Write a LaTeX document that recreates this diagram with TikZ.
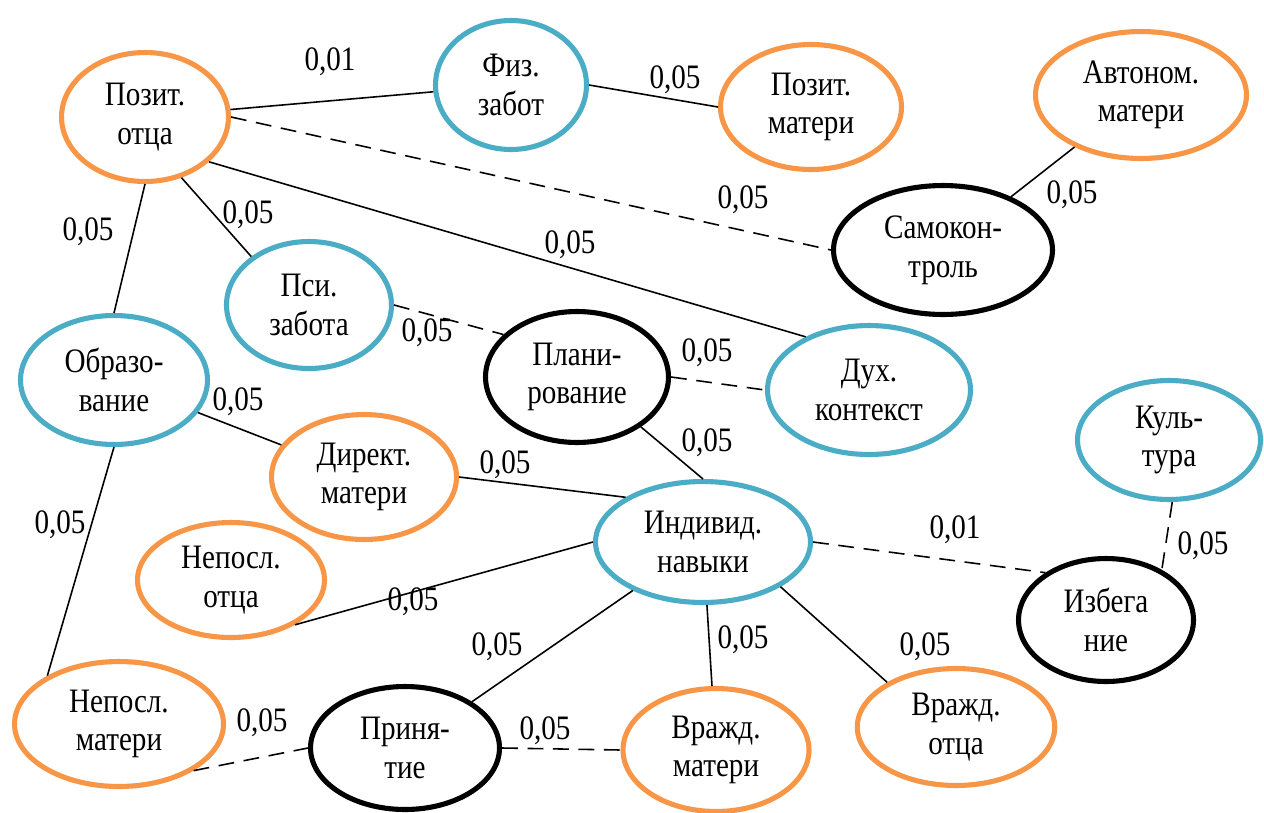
\documentclass[tikz,border=0pt]{standalone}
\usepackage{fontspec}
\setmainfont{Liberation Serif}[FakeStretch=0.85]
\usetikzlibrary{shapes.geometric}
\definecolor{orangeline}{HTML}{F79646}
\definecolor{blueline}{HTML}{4BACC6}

\begin{document}
\begin{tikzpicture}[x=0.02cm, y=-0.02cm,
    every node/.style={font=\fontsize{19.5}{22}\selectfont},
    factor/.style={ellipse, draw, line width=2.9pt, inner sep=0pt, align=center},
    parental/.style={factor, draw=orangeline},
    context/.style={factor, draw=blueline},
    selfreg/.style={factor, draw=black},
    link/.style={line width=0.9pt},
    weak/.style={link, dash pattern=on 9pt off 5.5pt},
    weight/.style={inner sep=1pt}]
   \useasboundingbox (0,0) rectangle (1264,812);
   \node[parental, minimum width=3.34cm, minimum height=2.58cm] (PO) at (145,117) {Позит.\\отца};
   \node[context, minimum width=3.02cm, minimum height=2.58cm] (FZ) at (511,85) {Физ.\\забот};
   \node[parental, minimum width=3.62cm, minimum height=2.5cm] (PM) at (811,107) {Позит.\\матери};
   \node[parental, minimum width=4.22cm, minimum height=2.54cm] (AM) at (1141,95) {Автоном.\\матери};
   \node[selfreg, minimum width=4.38cm, minimum height=2.58cm] (SK) at (943,250) {Самокон-\\троль};
   \node[context, minimum width=4.06cm, minimum height=2.58cm] (DK) at (869,390) {Дух.\\контекст};
   \node[context, minimum width=3.74cm, minimum height=2.58cm] (OB) at (114,380) {Образо-\\вание};
   \node[context, minimum width=3.3cm, minimum height=2.54cm] (PZ) at (309,305) {Пси.\\забота};
   \node[selfreg, minimum width=3.66cm, minimum height=2.62cm] (PL) at (577,377) {Плани-\\рование};
   \node[parental, minimum width=3.7cm, minimum height=2.5cm] (DM) at (364,477) {Директ.\\матери};
   \node[parental, minimum width=3.74cm, minimum height=2.3cm] (NO) at (231,580) {Непосл.\\отца};
   \node[parental, minimum width=4.18cm, minimum height=2.5cm] (NM) at (119,724) {Непосл.\\матери};
   \node[context, minimum width=4.3cm, minimum height=2.42cm] (IN) at (703,542) {Индивид.\\навыки};
   \node[selfreg, minimum width=3.78cm, minimum height=2.46cm] (PR) at (405,748) {Приня-\\тие};
   \node[parental, minimum width=3.72cm, minimum height=2.46cm] (VM) at (716,750) {Вражд.\\матери};
   \node[parental, minimum width=3.95cm, minimum height=2.34cm] (VO) at (956,727) {Вражд.\\отца};
   \node[selfreg, minimum width=3.5cm, minimum height=2.46cm] (IZ) at (1106,620) {Избега\\ние};
   \node[context, minimum width=3.66cm, minimum height=2.38cm] (KU) at (1169,440) {Куль-\\тура};

   \draw[link] (PO) to (FZ);
   \draw[link] (FZ.east) to (PM.west);
   \draw[weak] (PO.east) to (SK.west);
   \draw[link] (AM) to (SK);
   \draw[link] (PO.-35) to (DK.140);
   \draw[link] (PO.-59) to (PZ.140);
   \draw[link] (PO.south) to (OB.north);
   \draw[weak] (PZ.east) to (PL.150);
   \draw[weak] (PL.east) to (DK.west);
   \draw[link] (OB) to (DM);
   \draw[link] (PL.-38) to (IN.north);
   \draw[link] (DM.east) to (IN.150);
   \draw[link] (OB.south) to (NM.146);
   \draw[link] (NO.-35) to (IN.west);
   \draw[weak] (IN.east) to (IZ.142);
   \draw[weak] (KU.-87) to (IZ.42);
   \draw[link] (IN) to (PR);
   \draw[link] (IN) to (VM);
   \draw[link] (IN.-30) to (VO.147);
   \draw[weak] (NM.-32) to (PR.west);
   \draw[weak] (PR.east) to (VM.west);

   \node[weight] (w1) at (330,62) {0,01};
   \node[weight] (w2) at (675,80) {0,05};
   \node[weight] (w3) at (743,200) {0,05};
   \node[weight] (w4) at (1072,195) {0,05};
   \node[weight] (w5) at (570,245) {0,05};
   \node[weight] (w6) at (248,215) {0,05};
   \node[weight] (w7) at (88,232) {0,05};
   \node[weight] (w8) at (427,333) {0,05};
   \node[weight] (w9) at (707,353) {0,05};
   \node[weight] (w10) at (238,402) {0,05};
   \node[weight] (w11) at (707,443) {0,05};
   \node[weight] (w12) at (505,465) {0,05};
   \node[weight] (w13) at (60,525) {0,05};
   \node[weight] (w14) at (413,602) {0,05};
   \node[weight] (w15) at (955,530) {0,01};
   \node[weight] (w16) at (1203,546) {0,05};
   \node[weight] (w17) at (497,647) {0,05};
   \node[weight] (w18) at (743,640) {0,05};
   \node[weight] (w19) at (925,647) {0,05};
   \node[weight] (w20) at (262,723) {0,05};
   \node[weight] (w21) at (545,731) {0,05};
\end{tikzpicture}
\end{document}
